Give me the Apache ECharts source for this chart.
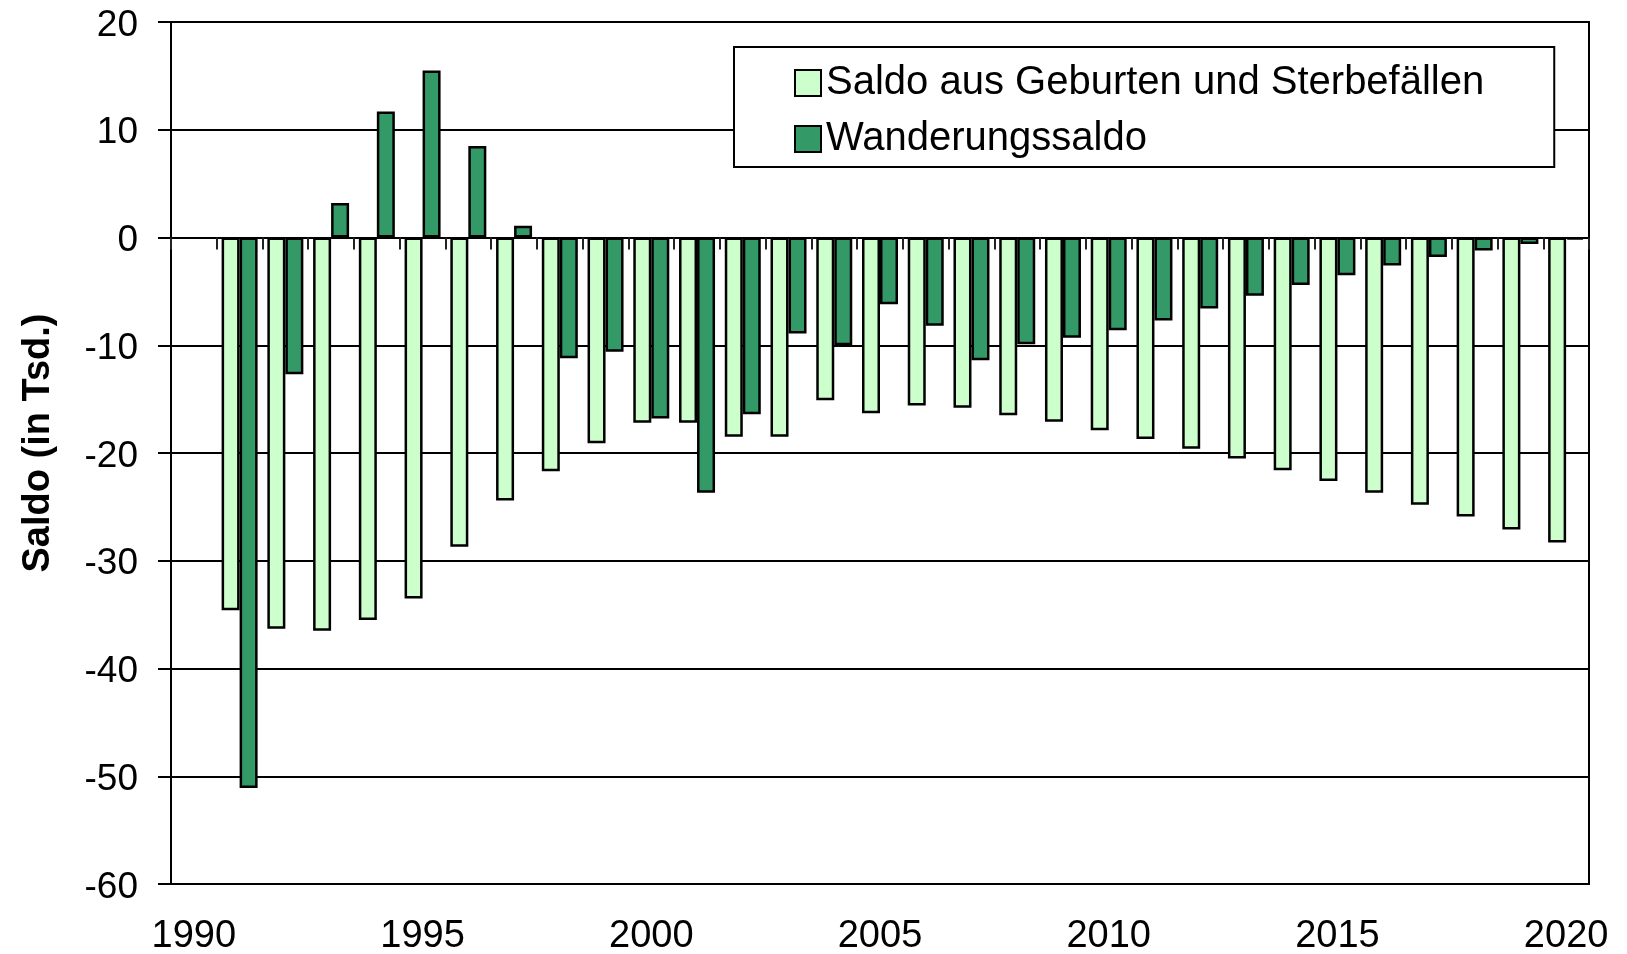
<!DOCTYPE html>
<html>
<head>
<meta charset="utf-8">
<script src="https://cdn.jsdelivr.net/npm/echarts@6/dist/echarts.min.js"></script>
<style>
  html, body { margin: 0; padding: 0; background: #fff; }
  #chart { width: 1627px; height: 954px; }
</style>
</head>
<body>
<div id="chart"></div>
<script>
// years on the category axis (1990 has no data)
const years = [];
for (let y = 1990; y <= 2020; y++) years.push(String(y));

// Saldo aus Geburten und Sterbefällen (Tsd.)
const naturalSaldo = [null,
  -34.6, -36.3, -36.5, -35.5, -33.5, -28.7, -24.4, -21.7, -19.1, -17.2,
  -17.2, -18.5, -18.5, -15.1, -16.3, -15.6, -15.8, -16.5, -17.1, -17.9,
  -18.7, -19.6, -20.5, -21.6, -22.6, -23.7, -24.8, -25.9, -27.1, -28.3];

// Wanderungssaldo (Tsd.)
const migrationSaldo = [null,
  -51.1, -12.7, 3.2, 11.7, 15.5, 8.5, 1.1, -11.2, -10.6, -16.8,
  -23.7, -16.4, -8.9, -10.0, -6.2, -8.2, -11.4, -9.9, -9.3, -8.6,
  -7.7, -6.6, -5.4, -4.4, -3.5, -2.6, -1.8, -1.2, -0.6, -0.2];

const seriesNames = ['Saldo aus Geburten und Sterbefällen', 'Wanderungssaldo'];
const font = '"Liberation Sans", Arial, sans-serif';

const chart = echarts.init(document.getElementById('chart'), null, { renderer: 'canvas' });

chart.setOption({
  animation: false,
  backgroundColor: '#fff',
  textStyle: { fontFamily: font, color: '#000' },
  grid: {
    left: 171, right: 38, top: 22, bottom: 70,
    show: true, borderColor: '#000', borderWidth: 2,
    outerBoundsMode: 'none'
  },
  legend: {
    orient: 'vertical',
    left: 734, top: 47,
    padding: [16, 70, 8, 60],
    itemGap: 16,
    itemWidth: 26, itemHeight: 26,
    icon: 'rect',
    backgroundColor: '#fff',
    borderColor: '#000', borderWidth: 2, borderRadius: 0,
    textStyle: { fontSize: 40, color: '#000', fontFamily: font },
    data: seriesNames
  },
  xAxis: [
    {
      type: 'category',
      data: years,
      position: 'bottom',
      axisLine: { onZero: false, lineStyle: { color: '#000', width: 2 } },
      axisTick: { show: false },
      axisLabel: { interval: 4, fontSize: 38, color: '#000', margin: 34, fontFamily: font },
      splitLine: { show: false }
    },
    {
      type: 'category',
      data: years,
      position: 'top',
      axisLine: { onZero: true, lineStyle: { color: '#000', width: 2 } },
      axisTick: { show: true, inside: true, length: 12, interval: 0, lineStyle: { color: '#222', width: 2 } },
      axisLabel: { show: false },
      splitLine: { show: false }
    }
  ],
  yAxis: {
    type: 'value',
    min: -60, max: 20, interval: 10,
    name: 'Saldo (in Tsd.)',
    nameLocation: 'middle',
    nameGap: 113,
    nameTextStyle: { fontSize: 38, fontWeight: 'bold', color: '#000', fontFamily: font, padding: [0, 0, 0, 20] },
    axisLine: { show: true, lineStyle: { color: '#000', width: 2 } },
    axisTick: { show: true, length: 13, lineStyle: { color: '#000', width: 2 } },
    axisLabel: {
      margin: 33,
      formatter: '{v|{value}}',
      rich: { v: { fontSize: 37, color: '#000', fontFamily: font, padding: [7, 0, 0, 0] } }
    },
    splitLine: { show: true, lineStyle: { color: '#000', width: 2 } }
  },
  series: [
    {
      name: seriesNames[0],
      type: 'bar',
      xAxisIndex: 0,
      data: naturalSaldo,
      barWidth: 18,
      barGap: '0%',
      itemStyle: { color: '#CCFFCC', borderColor: '#000', borderWidth: 2.5 }
    },
    {
      name: seriesNames[1],
      type: 'bar',
      xAxisIndex: 0,
      data: migrationSaldo,
      barWidth: 18,
      barGap: '0%',
      itemStyle: { color: '#339966', borderColor: '#000', borderWidth: 2.5 }
    }
  ]
});
</script>
</body>
</html>
